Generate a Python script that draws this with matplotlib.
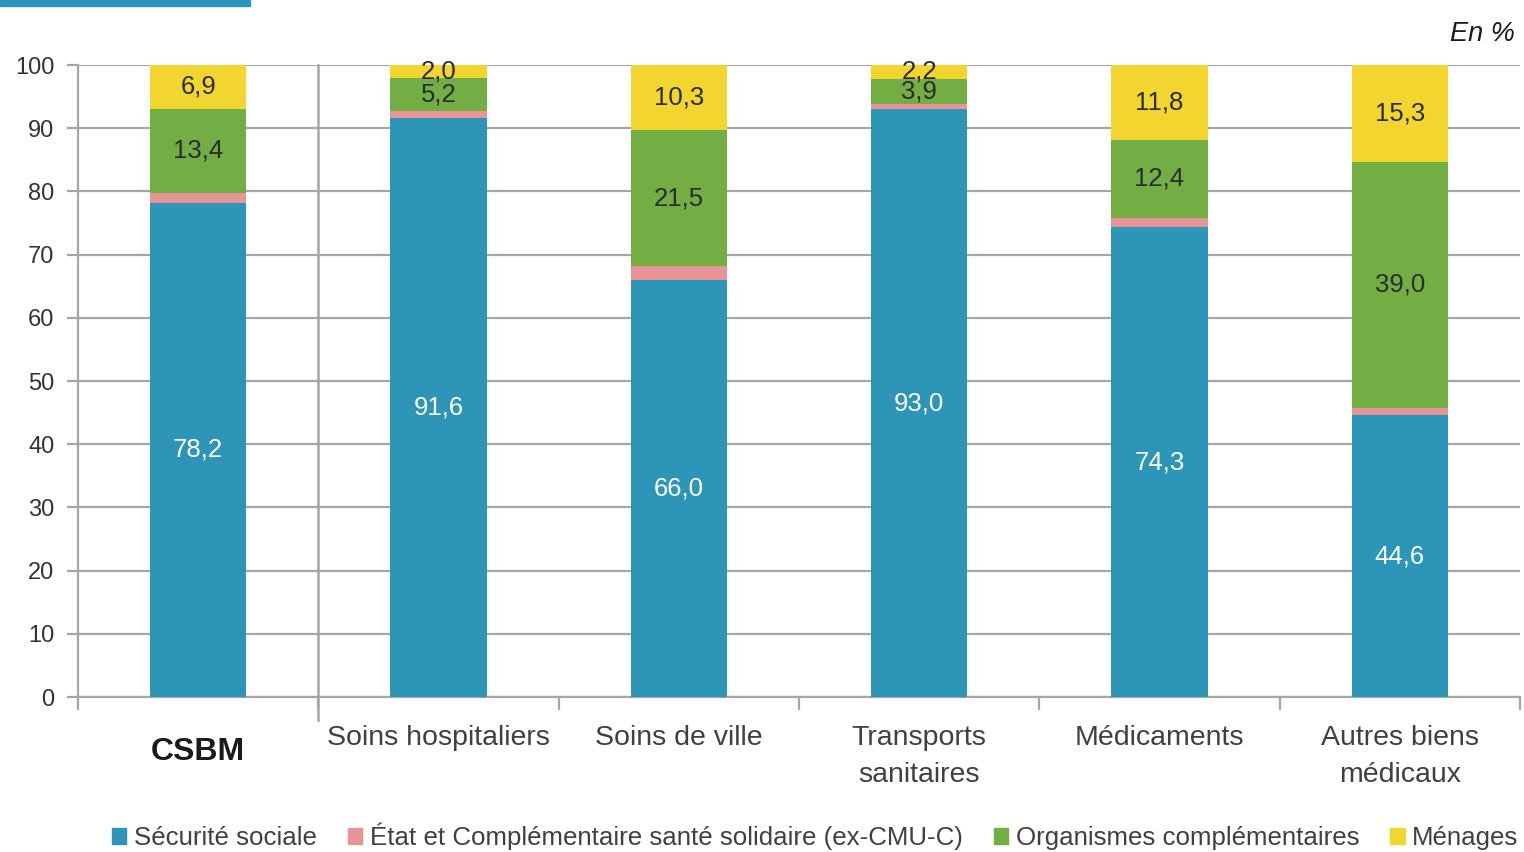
import matplotlib.pyplot as plt
import matplotlib.patches as mpatches
import numpy as np

plt.rcParams['font.family'] = ['Liberation Sans', 'DejaVu Sans']

categories = ["CSBM", "Soins hospitaliers", "Soins de ville", "Transports\nsanitaires",
              "Médicaments", "Autres biens\nmédicaux"]
series_names = ["Sécurité sociale", "État et Complémentaire santé solidaire (ex-CMU-C)",
                "Organismes complémentaires", "Ménages"]
securite_sociale = [78.2, 91.6, 66.0, 93.0, 74.3, 44.6]
etat_css = [1.5, 1.2, 2.2, 0.9, 1.5, 1.1]
organismes = [13.4, 5.2, 21.5, 3.9, 12.4, 39.0]
menages = [6.9, 2.0, 10.3, 2.2, 11.8, 15.3]
yticks = [0, 10, 20, 30, 40, 50, 60, 70, 80, 90, 100]

colors = ["#2C95B8", "#E79497", "#72AE44", "#F2D52F"]
label_colors = ["white", None, "#2b2b2b", "#2b2b2b"]
grid_col = "#A6A6A6"

fig = plt.figure(figsize=(15.24, 8.52), dpi=100)
ax = fig.add_axes([78 / 1524, 1 - 697 / 852, 1442 / 1524, 632 / 852])

x = np.arange(len(categories))
bottom = np.zeros(len(categories))
all_series = [securite_sociale, etat_css, organismes, menages]
for vals, col, lcol in zip(all_series, colors, label_colors):
    vals = np.array(vals)
    ax.bar(x, vals, width=0.4, bottom=bottom, color=col, zorder=3)
    if lcol is not None:
        for xi, b, v in zip(x, bottom, vals):
            ax.text(xi, b + v / 2, f"{v:.1f}".replace(".", ","), ha="center", va="center",
                    fontsize=18.5, color=lcol, zorder=4)
    bottom = bottom + vals

ax.set_xlim(-0.5, len(categories) - 0.5)
ax.set_ylim(0, 100)
ax.set_yticks(yticks)
ax.set_yticklabels([str(t) for t in yticks], fontsize=17, color="#333333")
ax.yaxis.grid(True, color=grid_col, linewidth=1.6, zorder=0)
ax.tick_params(axis="y", length=8, width=1.6, color=grid_col, pad=9)

ax.set_xticks(x)
ax.set_xticklabels([])
ax.set_xticks(np.arange(-0.5, len(categories)), minor=True)
ax.tick_params(axis="x", which="major", length=0)
ax.tick_params(axis="x", which="minor", length=9, width=1.6, color=grid_col)

for s in ["top", "right"]:
    ax.spines[s].set_visible(False)
for s in ["left", "bottom"]:
    ax.spines[s].set_color(grid_col)
    ax.spines[s].set_linewidth(1.6)

# separator between CSBM and the detail
ax.plot([0.5, 0.5], [-3.7, 100], color=grid_col, linewidth=1.8, clip_on=False, zorder=2)

for xi, lab in zip(x, categories):
    if lab == "CSBM":
        ax.text(xi, -6.3, lab, ha="center", va="top", fontsize=23, fontweight="bold",
                color="#1a1a1a")
    else:
        ax.text(xi, -4.4, lab, ha="center", va="top", fontsize=20.5, color="#404040",
                linespacing=1.55)

fig.text(0.994, 0.975, "En %", ha="right", va="top", fontsize=19.5, style="italic", color="#1a1a1a")

# banner fragment at the top left
fig.add_artist(mpatches.Rectangle((0, 1 - 6 / 852), 250 / 1524, 6 / 852, transform=fig.transFigure,
                                  color="#2C95B8"))

handles = [mpatches.Patch(color=c) for c in colors]
fig.legend(handles, series_names, loc="center", bbox_to_anchor=(0.535, 0.018), ncol=4, frameon=False,
           fontsize=18.6, handlelength=0.55, handleheight=0.55, handletextpad=0.3, columnspacing=1.2,
           labelcolor="#404040", borderaxespad=0, borderpad=0)

fig.savefig("out.png", dpi=100)
